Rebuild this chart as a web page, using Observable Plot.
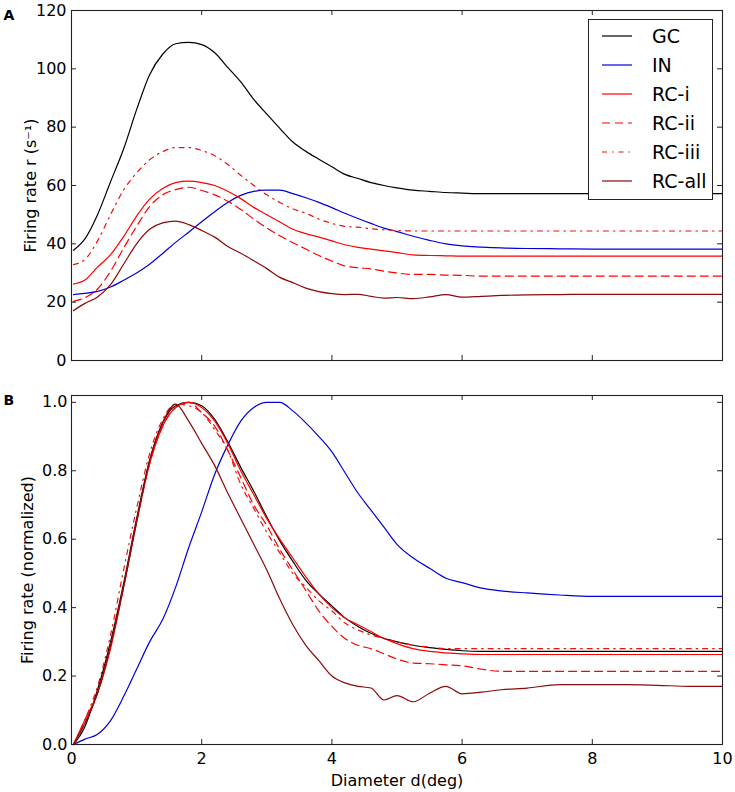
<!DOCTYPE html>
<html>
<head>
<meta charset="utf-8">
<script src="https://cdn.jsdelivr.net/npm/d3@7"></script>
<script src="https://cdn.jsdelivr.net/npm/@observablehq/plot@0.6"></script>
<style>
  html, body { margin: 0; padding: 0; background: #fff; }
  body { font-family: "DejaVu Sans", sans-serif; }
  #wrap { position: relative; width: 735px; height: 792px; overflow: hidden; }
  #wrap svg { display: block; }
  .legend { position: absolute; left: 588px; top: 19px; width: 125px; height: 181px;
            border: 1px solid #222; background: #fff; box-sizing: border-box; }
  .legend .row { position: absolute; left: 0; height: 24px; width: 123px; }
  .legend .row svg { position: absolute; left: 13px; top: 7px; }
  .legend .row span { position: absolute; left: 63px; top: 0; font-size: 19px; line-height: 24px; color: #000; }
</style>
</head>
<body>
<div id="wrap"></div>
<script>
// ---- data ----
const diameter = [0.03, 0.2, 0.4, 0.6, 0.8, 1.0, 1.2, 1.4, 1.6, 1.8,
                  2.0, 2.2, 2.4, 2.6, 2.8, 3.0, 3.2, 3.4, 3.6, 3.8,
                  4.0, 4.2, 4.4, 4.6, 4.8, 5.0,
                  5.25, 5.5, 5.75, 6.0, 6.3, 6.6,
                  7.0, 7.5, 8.0, 8.5, 9.0, 9.5, 10.0];

const seriesNames = ["GC", "IN", "RC-i", "RC-ii", "RC-iii", "RC-all"];
const seriesColors = ["#000000", "#0000dd", "#ff0000", "#ff0000", "#ee1111", "#8b0a0a"];
const seriesDash = [null, null, null, "8,5", "5,5,1.5,5", null];

// Panel A: firing rate r (1/s)
const rateGC    = [37.8, 41.5, 50, 61.3, 72.5, 86, 98, 105, 108.6, 109.1,
                   108.3, 105.5, 100.5, 95.5, 89.5, 84.5, 79.6, 74.9, 71.7, 69,
                   66.4, 63.8, 62.4, 61, 60, 59.2,
                   58.4, 58, 57.6, 57.4, 57.2, 57.2,
                   57.2, 57.2, 57.2, 57.2, 57.2, 57.2, 57.2];
const rateIN    = [22.6, 23, 23.7, 25.2, 27.5, 30, 33, 36.7, 40.5, 44,
                   47.6, 51, 54.2, 56.6, 58, 58.4, 58.4, 57.2, 55.8, 54.2,
                   52.4, 50.5, 48.7, 47, 45.4, 44.2,
                   42.6, 41.2, 40, 39.3, 38.9, 38.6,
                   38.4, 38.3, 38.2, 38.2, 38.2, 38.2, 38.2];
const rateRCi   = [26.2, 27.5, 32, 36.3, 42.5, 49.5, 55.3, 59, 61, 61.5,
                   61, 60, 58, 55.5, 52.5, 50, 47.5, 45, 43.5, 42.3,
                   41, 39.7, 38.8, 38.2, 37.6, 37,
                   36.2, 36, 35.9, 35.8, 35.8, 35.8,
                   35.8, 35.8, 35.8, 35.8, 35.8, 35.8, 35.8];
const rateRCii  = [20.3, 21.5, 24.5, 30.6, 38.5, 46, 52.8, 56.8, 58.6, 59.4,
                   58.3, 56.8, 54.6, 51.8, 48.5, 45.4, 42.8, 40.4, 38.2, 36,
                   34.1, 32.4, 31.8, 31.4, 30.6, 30,
                   29.5, 29.5, 29.3, 29.2, 28.9, 28.9,
                   28.9, 28.9, 28.9, 28.9, 28.9, 28.9, 28.9];
const rateRCiii = [32.9, 34.5, 41, 50, 58.5, 64.3, 68.8, 71.6, 73, 73,
                   72, 70.2, 67.2, 63.5, 60, 56.8, 54.2, 52, 50.5, 48.5,
                   47, 46, 45.7, 45.2, 44.8, 44.6,
                   44.4, 44.4, 44.4, 44.4, 44.4, 44.4,
                   44.4, 44.4, 44.4, 44.4, 44.4, 44.4, 44.4];
const rateRCall = [17.1, 19.5, 21.8, 26, 33, 40, 45, 47.2, 47.8, 46.6,
                   44.6, 42.3, 39.1, 36.8, 34.2, 31.5, 28.5, 26.7, 24.8, 23.6,
                   22.9, 22.6, 22.7, 22, 21.4, 21.6,
                   21.2, 21.8, 22.6, 21.7, 22, 22.3,
                   22.5, 22.6, 22.7, 22.7, 22.7, 22.7, 22.7];

// Panel B: normalized firing rate
const normGC    = [0, 0.05, 0.16, 0.3, 0.47, 0.66, 0.83, 0.94, 0.99, 1.0,
                   0.99, 0.95, 0.885, 0.81, 0.74, 0.665, 0.595, 0.535, 0.48, 0.44,
                   0.405, 0.37, 0.345, 0.325, 0.31, 0.30,
                   0.29, 0.283, 0.278, 0.274, 0.272, 0.272,
                   0.272, 0.272, 0.272, 0.272, 0.272, 0.272, 0.272];
const normIN    = [0, 0.015, 0.03, 0.07, 0.14, 0.22, 0.30, 0.365, 0.46, 0.575,
                   0.68, 0.79, 0.875, 0.945, 0.985, 1.0, 1.0, 0.975, 0.94, 0.90,
                   0.855, 0.795, 0.735, 0.685, 0.635, 0.585,
                   0.545, 0.515, 0.486, 0.473, 0.457, 0.449,
                   0.443, 0.437, 0.433, 0.433, 0.433, 0.433, 0.433];
const normRCi   = [0, 0.07, 0.15, 0.28, 0.46, 0.65, 0.82, 0.93, 0.985, 1.0,
                   0.985, 0.945, 0.88, 0.80, 0.73, 0.66, 0.60, 0.545, 0.49, 0.44,
                   0.40, 0.37, 0.35, 0.33, 0.31, 0.295,
                   0.28, 0.272, 0.268, 0.265, 0.263, 0.263,
                   0.263, 0.263, 0.263, 0.263, 0.263, 0.263, 0.263];
const normRCii  = [0, 0.06, 0.15, 0.29, 0.46, 0.65, 0.82, 0.93, 0.985, 1.0,
                   0.97, 0.93, 0.86, 0.78, 0.70, 0.64, 0.57, 0.51, 0.45, 0.39,
                   0.345, 0.31, 0.29, 0.28, 0.265, 0.25,
                   0.238, 0.236, 0.233, 0.23, 0.22, 0.214,
                   0.214, 0.214, 0.214, 0.214, 0.214, 0.214, 0.214];
const normRCiii = [0, 0.07, 0.17, 0.32, 0.51, 0.69, 0.85, 0.95, 0.995, 0.99,
                   0.97, 0.92, 0.86, 0.76, 0.69, 0.62, 0.56, 0.50, 0.46, 0.42,
                   0.39, 0.355, 0.335, 0.32, 0.31, 0.30,
                   0.29, 0.285, 0.28, 0.28, 0.28, 0.28,
                   0.28, 0.28, 0.28, 0.28, 0.28, 0.28, 0.28];
const normRCall = [0, 0.06, 0.15, 0.29, 0.46, 0.65, 0.83, 0.94, 0.995, 0.945,
                   0.88, 0.815, 0.735, 0.66, 0.585, 0.51, 0.425, 0.35, 0.29, 0.245,
                   0.2, 0.18, 0.17, 0.165, 0.13, 0.143,
                   0.125, 0.15, 0.17, 0.148, 0.153, 0.16,
                   0.165, 0.175, 0.175, 0.175, 0.173, 0.17, 0.17];

const xTicks = [0, 2, 4, 6, 8, 10];
const yTicksA = [0, 20, 40, 60, 80, 100, 120];
const yTicksB = [0, 0.2, 0.4, 0.6, 0.8, 1.0];
const xLabel = "Diameter d(deg)";
const yLabelA = "Firing rate r (s\u207B\u00B9)";
const yLabelB = "Firing rate (normalized)";
const panelLabels = ["A", "B"];

// ---- build ----
const rateSeries = [rateGC, rateIN, rateRCi, rateRCii, rateRCiii, rateRCall];
const normSeries = [normGC, normIN, normRCi, normRCii, normRCiii, normRCall];

const W = 735, ML = 71, MR = 13;
const FW = W - ML - MR;

function lineMarks(seriesList) {
  return seriesList.map((vals, k) => {
    const rows = diameter.map((d, i) => ({d, v: vals[i]}));
    const opts = {x: "d", y: "v", stroke: seriesColors[k], strokeWidth: 1.2, curve: "monotone-x"};
    if (seriesDash[k]) opts.strokeDasharray = seriesDash[k];
    return Plot.line(rows, opts);
  });
}

// inward ticks on all four sides (matplotlib classic style)
function tickMarks(yTicks, FH) {
  const tl = 5, st = {stroke: "#222", strokeWidth: 1};
  return [
    Plot.ruleX(xTicks, {...st, insetTop: FH - tl}),
    Plot.ruleX(xTicks, {...st, insetBottom: FH - tl}),
    Plot.ruleY(yTicks, {...st, insetRight: FW - tl}),
    Plot.ruleY(yTicks, {...st, insetLeft: FW - tl})
  ];
}

const common = {
  width: W, marginLeft: ML, marginRight: MR,
  style: {fontFamily: "DejaVu Sans", fontSize: "16px", color: "#000", background: "#fff"}
};

const hA = 370, mtA = 10, mbA = 10;
const plotA = Plot.plot({
  ...common,
  height: hA, marginTop: mtA, marginBottom: mbA,
  x: {domain: [0, 10], axis: null},
  y: {domain: [0, 120]},
  marks: [
    ...lineMarks(rateSeries),
    ...tickMarks(yTicksA, hA - mtA - mbA),
    Plot.frame({stroke: "#222", strokeWidth: 1.1}),
    Plot.axisY({anchor: "left", ticks: yTicksA, tickSize: 0, tickPadding: 5, label: null, fontSize: 16}),
    Plot.text([yLabelA], {frameAnchor: "left", dx: -41, dy: 0, rotate: -90, textAnchor: "middle", lineAnchor: "middle", fontSize: 16}),
    Plot.text([panelLabels[0]], {frameAnchor: "top-left", dx: -68, dy: 0, textAnchor: "start", lineAnchor: "top", fontWeight: "bold", fontSize: 14})
  ]
});

const hB = 422, mtB = 25, mbB = 48;
const plotB = Plot.plot({
  ...common,
  height: hB, marginTop: mtB, marginBottom: mbB,
  x: {domain: [0, 10]},
  y: {domain: [0, 1.02]},
  marks: [
    ...lineMarks(normSeries),
    ...tickMarks(yTicksB, hB - mtB - mbB),
    Plot.frame({stroke: "#222", strokeWidth: 1.1}),
    Plot.axisY({anchor: "left", ticks: yTicksB, tickSize: 0, tickPadding: 4, tickFormat: d3.format(".1f"), label: null, fontSize: 16}),
    Plot.axisX({anchor: "bottom", ticks: xTicks, tickSize: 0, tickPadding: 8, label: null, fontSize: 16}),
    Plot.text([xLabel], {frameAnchor: "bottom", dy: 36.5, textAnchor: "middle", lineAnchor: "middle", fontSize: 16}),
    Plot.text([yLabelB], {frameAnchor: "left", dx: -44, dy: 0, rotate: -90, textAnchor: "middle", lineAnchor: "middle", fontSize: 16}),
    Plot.text([panelLabels[1]], {frameAnchor: "top-left", dx: -68, dy: 0, textAnchor: "start", lineAnchor: "top", fontWeight: "bold", fontSize: 14})
  ]
});

const wrap = document.getElementById("wrap");
wrap.appendChild(plotA);
wrap.appendChild(plotB);

// legend (inside panel A)
const legend = document.createElement("div");
legend.className = "legend";
seriesNames.forEach((name, k) => {
  const row = document.createElement("div");
  row.className = "row";
  row.style.top = (4 + 29 * k) + "px";
  const ns = "http://www.w3.org/2000/svg";
  const s = document.createElementNS(ns, "svg");
  s.setAttribute("width", "30");
  s.setAttribute("height", "10");
  const l = document.createElementNS(ns, "line");
  l.setAttribute("x1", "0"); l.setAttribute("x2", "30");
  l.setAttribute("y1", "5"); l.setAttribute("y2", "5");
  l.setAttribute("stroke", seriesColors[k]);
  l.setAttribute("stroke-width", "1.2");
  if (seriesDash[k]) l.setAttribute("stroke-dasharray", seriesDash[k]);
  s.appendChild(l);
  const t = document.createElement("span");
  t.textContent = name;
  row.appendChild(s);
  row.appendChild(t);
  legend.appendChild(row);
});
wrap.appendChild(legend);
</script>
</body>
</html>
